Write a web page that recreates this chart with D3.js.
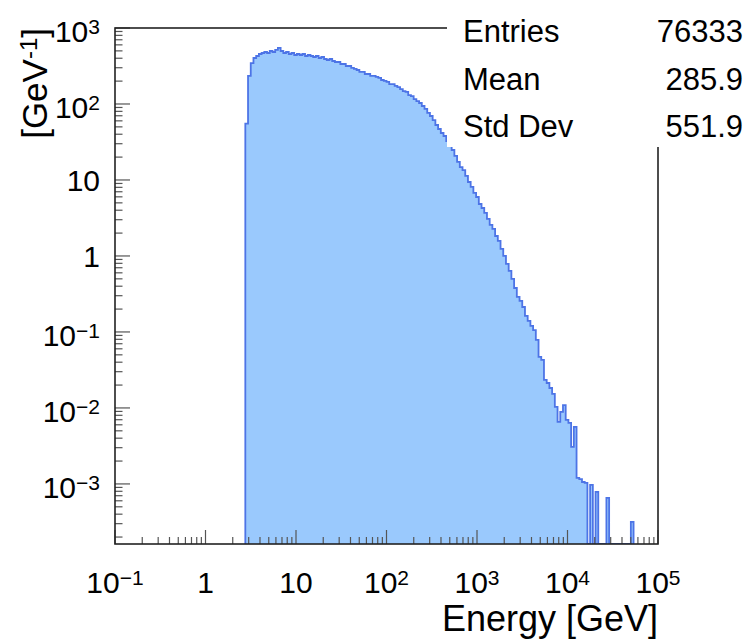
<!DOCTYPE html>
<html>
<head>
<meta charset="utf-8">
<script src="https://cdn.jsdelivr.net/npm/d3@7"></script>
<style>
  body { margin: 0; background: #fff; }
  text { font-family: 'Liberation Sans', Arial, Helvetica, sans-serif; fill: #000; }
</style>
</head>
<body>
<script>
// histogram binning: log10(E) bins, first low edge and width in decades
var binStartLog = 0.44;
var binWidthLog = 0.03;

// bin contents [GeV^-1] (0 = empty bin)
var counts = [
  55, 234, 346, 403, 428, 455, 469, 483, 469, 498,
  483, 514, 546, 498, 469, 483, 455, 469, 441, 455,
  441, 455, 428, 441, 428, 415, 428, 403, 415, 391,
  379, 391, 368, 357, 357, 336, 336, 316, 316, 298,
  289, 280, 264, 264, 248, 248, 234, 234, 227, 220,
  207, 201, 195, 183, 183, 173, 167, 157, 148, 144,
  131, 127, 116, 109, 103, 94.1, 86.0, 76.2, 69.5, 61.5,
  52.9, 46.9, 41.5, 37.9, 32.6, 28.9, 24.8, 20.7, 17.3, 14.8,
  13.5, 11.3, 9.41, 8.09, 6.75, 5.97, 4.83, 4.28, 3.68, 3.07,
  2.56, 2.27, 1.83, 1.58, 1.24, 1.0, 0.785, 0.635, 0.498, 0.379,
  0.289, 0.256, 0.213, 0.163, 0.140, 0.120, 0.106, 0.0785, 0.0469, 0.0428,
  0.0234, 0.0213, 0.0183, 0.0153, 0.0103, 0.00654, 0.00886, 0.0109, 0.00695, 0.00635,
  0.00307, 0.00562, 0.00120, 0.00116, 0.00106, 0.00103, 0, 0.00097, 0, 0.000785,
  0, 0, 0, 0.000655, 0, 0, 0, 0, 0, 0,
  0, 0, 0.000316
];

var xDomain = [0.1, 1e5];
var yDomain = [1.62e-4, 1e3];
var xTickExps = [-1, 0, 1, 2, 3, 4, 5];
var yTickExps = [-3, -2, -1, 0, 1, 2, 3];

var statNames = ['Entries', 'Mean', 'Std Dev'];
var statValues = ['76333', '285.9', '551.9'];

var xTitle = 'Energy [GeV]';

var w = 745, h = 641;
var fLeft = 115, fRight = 658, fTop = 28, fBottom = 544;

var FILL = '#9ac9fd';
var LINE = '#4d74e6';
var AXIS = '#222';

var x = d3.scaleLog().domain(xDomain).range([fLeft, fRight]);
var y = d3.scaleLog().domain(yDomain).range([fBottom, fTop]);

var svg = d3.select('body').append('svg')
  .attr('width', w)
  .attr('height', h);

svg.append('defs').append('clipPath').attr('id', 'frame')
  .append('rect')
    .attr('x', fLeft).attr('y', fTop)
    .attr('width', fRight - fLeft).attr('height', fBottom - fTop);

// histogram as a step outline
var bins = counts.map(function(v, i) {
  return {
    lo: Math.pow(10, binStartLog + i * binWidthLog),
    hi: Math.pow(10, binStartLog + (i + 1) * binWidthLog),
    v: v
  };
});

var pts = [[x(bins[0].lo), fBottom]];
bins.forEach(function(b) {
  var yy = b.v > 0 ? y(b.v) : fBottom;
  pts.push([x(b.lo), yy]);
  pts.push([x(b.hi), yy]);
});
pts.push([x(bins[bins.length - 1].hi), fBottom]);

var line = d3.line();
var g = svg.append('g').attr('clip-path', 'url(#frame)');
g.append('path')
  .attr('d', line(pts) + 'Z')
  .attr('fill', FILL)
  .attr('stroke', 'none');
g.append('path')
  .attr('d', line(pts))
  .attr('fill', 'none')
  .attr('stroke', LINE)
  .attr('stroke-width', 1.8)
  .attr('stroke-linejoin', 'miter');

// ticks (drawn inside the frame, ROOT style)
function logTicks(domain) {
  var out = [];
  var lo = Math.floor(Math.log10(domain[0]));
  var hi = Math.ceil(Math.log10(domain[1]));
  for (var e = lo; e <= hi; e++) {
    for (var m = 1; m <= 9; m++) {
      var v = m * Math.pow(10, e);
      if (v >= domain[0] * 0.999 && v <= domain[1] * 1.001) out.push({ v: v, major: m === 1 });
    }
  }
  return out;
}

var axes = svg.append('g');
axes.selectAll('line.xt')
    .data(logTicks(xDomain))
  .enter().append('line')
    .attr('class', 'xt')
    .attr('x1', function(d) { return x(d.v); })
    .attr('x2', function(d) { return x(d.v); })
    .attr('y1', fBottom)
    .attr('y2', function(d) { return fBottom - (d.major ? 14 : 7); })
    .attr('stroke', '#555')
    .attr('stroke-width', 1.2);

axes.selectAll('line.yt')
    .data(logTicks(yDomain))
  .enter().append('line')
    .attr('class', 'yt')
    .attr('y1', function(d) { return y(d.v); })
    .attr('y2', function(d) { return y(d.v); })
    .attr('x1', fLeft)
    .attr('x2', function(d) { return fLeft + (d.major ? 15 : 7.5); })
    .attr('stroke', '#555')
    .attr('stroke-width', 1.2);

// frame
axes.append('rect')
  .attr('x', fLeft).attr('y', fTop)
  .attr('width', fRight - fLeft).attr('height', fBottom - fTop)
  .attr('fill', 'none')
  .attr('stroke', AXIS)
  .attr('stroke-width', 1.6);

// labels like 10^-2 with a real superscript
function powerLabel(sel, e) {
  if (e === 0) { sel.append('tspan').text('1'); return false; }
  sel.append('tspan').text('10');
  if (e === 1) return false;
  sel.append('tspan')
    .attr('dy', -8)
    .style('font-size', '21px')
    .text(e < 0 ? '\u2212' + (-e) : String(e));
  return true;
}

xTickExps.forEach(function(e) {
  var t = svg.append('text')
    .attr('x', x(Math.pow(10, e)))
    .attr('y', 593)
    .attr('text-anchor', 'middle')
    .style('font-size', '30px');
  powerLabel(t, e);
});

yTickExps.forEach(function(e) {
  var t = svg.append('text')
    .attr('x', 100)
    .attr('text-anchor', 'end')
    .style('font-size', '30px');
  var sup = powerLabel(t, e);
  t.attr('y', y(Math.pow(10, e)) + (sup ? 14 : 11));
});

// axis titles
svg.append('text')
  .attr('x', fRight)
  .attr('y', 631)
  .attr('text-anchor', 'end')
  .style('font-size', '36px')
  .text(xTitle);

var yt = svg.append('text')
  .attr('transform', 'translate(47,28) rotate(-90)')
  .attr('text-anchor', 'end')
  .style('font-size', '35px');
yt.append('tspan').text('[GeV');
yt.append('tspan').attr('dy', -10).style('font-size', '24px').text('-1');
yt.append('tspan').attr('dy', 10).text(']');

// stats box
svg.append('rect')
  .attr('x', 447).attr('y', 0)
  .attr('width', w - 447).attr('height', 147)
  .attr('fill', '#fff');

statNames.forEach(function(name, i) {
  svg.append('text')
    .attr('x', 463)
    .attr('y', 42 + i * 47.5)
    .style('font-size', '31px')
    .text(name);
  svg.append('text')
    .attr('x', 743)
    .attr('y', 42 + i * 47.5)
    .attr('text-anchor', 'end')
    .style('font-size', '31px')
    .text(statValues[i]);
});
</script>
</body>
</html>
